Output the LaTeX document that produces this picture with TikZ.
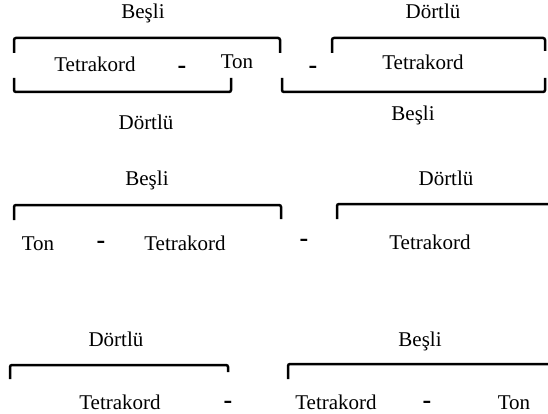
\documentclass[tikz,border=0pt]{standalone}
\usepackage{fontspec}
\setmainfont{Liberation Serif}
\begin{document}
\begin{tikzpicture}[x=1pt,y=-1pt,
  lbl/.style={anchor=base,inner sep=0pt,font=\fontsize{21}{25}\selectfont},
  sep/.style={anchor=center,inner sep=0pt,font=\fontsize{26}{30}\selectfont\bfseries},
  brace/.style={line width=2.5pt,rounded corners=2pt,line cap=butt}]
\useasboundingbox (0,0) rectangle (548,414);

% ---------- first scheme ----------
\node[lbl] (b1) at (143,19) {Beşli};
\node[lbl] (d1) at (433,19) {Dörtlü};
\node[lbl] (t1) at (95,72) {Tetrakord};
\node[sep] (s1) at (182,70) {-};
\node[lbl] (n1) at (237,69) {Ton};
\node[sep] (s2) at (313,70) {-};
\node[lbl] (t2) at (423,70) {Tetrakord};
\node[lbl] (d2) at (146,130) {Dörtlü};
\node[lbl] (b2) at (413,121) {Beşli};

\draw[brace] (14,53) -- (14,38) -- (280,38) -- (280,53);
\draw[brace] (332,53) -- (332,38) -- (545,38) -- (545,51);
\draw[brace] (14,78) -- (14,92) -- (231,92) -- (231,78);
\draw[brace] (282,78) -- (282,92) -- (545,92) -- (545,78);

% ---------- second scheme ----------
\node[lbl] (b3) at (147,185) {Beşli};
\node[lbl] (d3) at (446,185) {Dörtlü};
\node[lbl] (n2) at (38,250) {Ton};
\node[sep] (s3) at (101,245) {-};
\node[lbl] (t3) at (185,250) {Tetrakord};
\node[sep] (s4) at (304,243) {-};
\node[lbl] (t4) at (430,249) {Tetrakord};

\draw[brace] (14,220) -- (14,205) -- (281,205) -- (281,219);
\draw[brace] (337,219) -- (337,204) -- (552,204);

% ---------- third scheme ----------
\node[lbl] (d4) at (116,346) {Dörtlü};
\node[lbl] (b4) at (420,346) {Beşli};
\node[lbl] (t5) at (120,409) {Tetrakord};
\node[sep] (s5) at (228,405) {-};
\node[lbl] (t6) at (336,409) {Tetrakord};
\node[sep] (s6) at (427,405) {-};
\node[lbl] (n3) at (514,409) {Ton};

\draw[brace] (10,379) -- (10,365) -- (228,365) -- (228,372);
\draw[brace] (288,379) -- (288,364) -- (552,364);
\end{tikzpicture}
\end{document}
